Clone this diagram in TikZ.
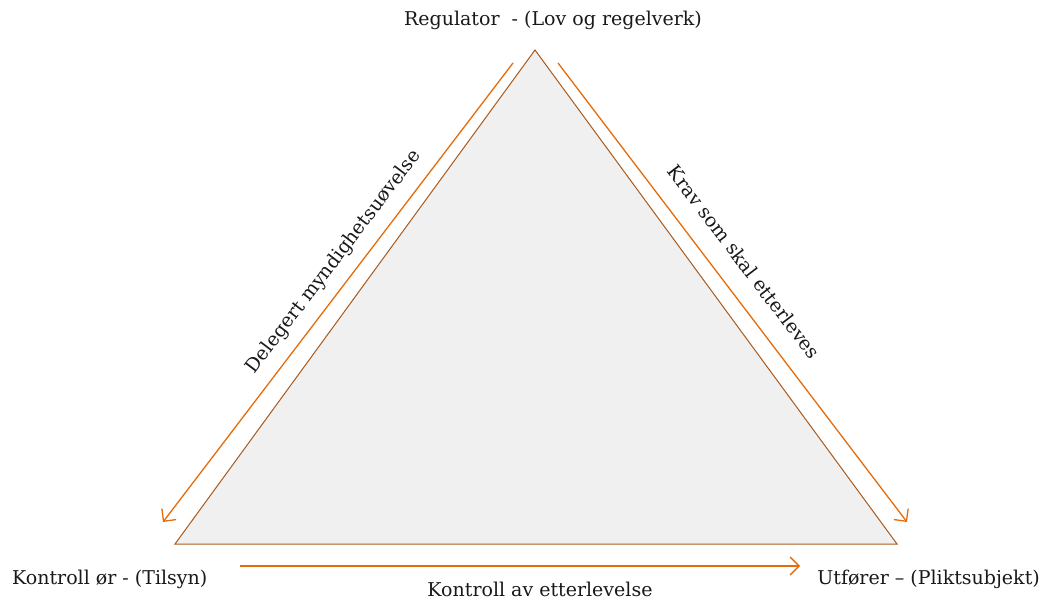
\documentclass[tikz,border=0pt]{standalone}
\usepackage{fontspec}
\setmainfont{DejaVu Serif}
\usetikzlibrary{arrows.meta}
\definecolor{triedge}{HTML}{A95A1C}
\definecolor{trifill}{HTML}{F0F0F0}
\definecolor{arr}{HTML}{E46C0A}
\tikzset{
  lbl/.style={font=\fontsize{19}{22}\selectfont, inner sep=0pt, text=black!90},
  flow/.style={draw=arr, line width=1.3pt, -{Straight Barb[length=9pt,width=18pt,line width=1.3pt]}},
}
\begin{document}
\begin{tikzpicture}[x=1pt,y=-1pt]
\useasboundingbox (0,0) rectangle (1042,600);
\coordinate (top) at (535,50);
\coordinate (bl) at (175,544);
\coordinate (br) at (897,544);
\filldraw[fill=trifill, draw=triedge, line width=1pt, line join=miter] (top) -- (br) -- (bl) -- cycle;
\coordinate (la) at (513,63);
\coordinate (lb) at (163,522);
\coordinate (ra) at (558,63);
\coordinate (rb) at (907,522);
\coordinate (ba) at (240,566);
\coordinate (bb) at (800,566);
\draw[flow] (la) -- (lb);
\draw[flow] (ra) -- (rb);
\draw[flow] (ba) -- (bb);
\node[lbl] (treg) at (553,20) {Regulator\ \ - (Lov og regelverk)};
\node[lbl, anchor=west] (tkon) at (12,579) {Kontroll ør - (Tilsyn)};
\node[lbl, anchor=east] (tutf) at (1040,579) {Utfører – (Pliktsubjekt)};
\node[lbl] (tav) at (540,589) {Kontroll av etterlevelse};
\node[lbl, rotate=52.7] (tdel) at (334,262) {Delegert myndighetsuøvelse};
\node[lbl, rotate=-52.7] (tkrav) at (744,262) {Krav som skal etterleves};
\end{tikzpicture}
\end{document}
